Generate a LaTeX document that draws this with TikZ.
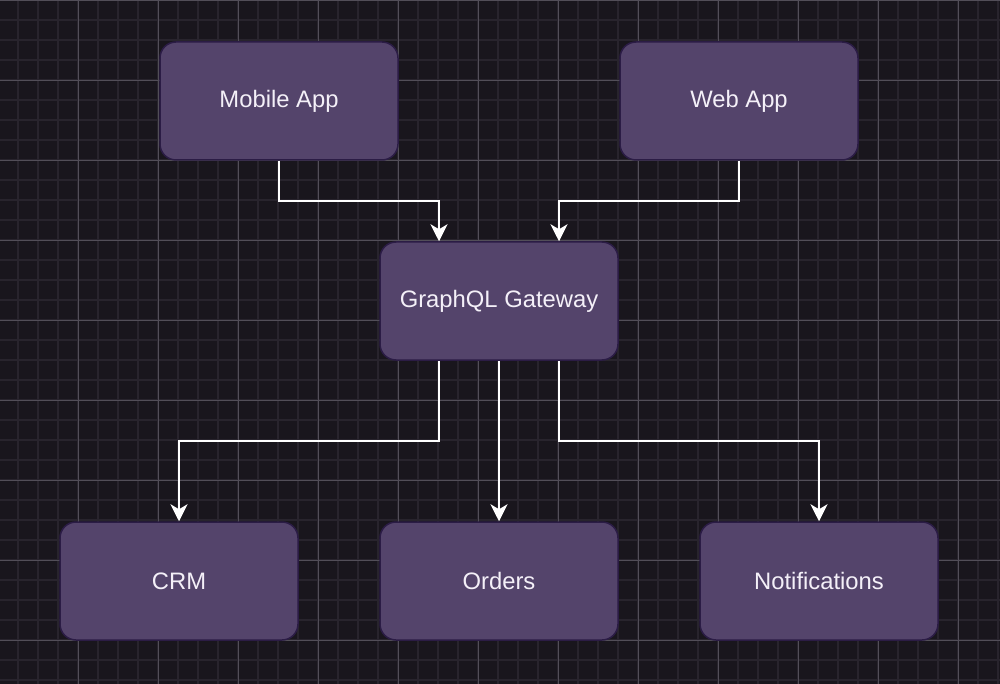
\documentclass[tikz,border=0pt]{standalone}
\usepackage{fontspec}
\setmainfont{Liberation Sans}
\usetikzlibrary{arrows.meta}
\definecolor{bgcol}{HTML}{19161D}
\definecolor{gridminor}{HTML}{28242D}
\definecolor{gridmajor}{HTML}{524E58}
\definecolor{boxfill}{HTML}{54446B}
\definecolor{boxline}{HTML}{2B1C45}
\definecolor{boxtext}{HTML}{F4F0F8}

\begin{document}
\begin{tikzpicture}[x=1pt,y=-1pt]
                        \tikzstyle{service}=[draw=boxline, line width=1.5pt, fill=boxfill, rounded corners=16pt,
                            minimum width=238pt, minimum height=118pt, text=boxtext,
                            font=\fontsize{23.8}{28}\selectfont]
                        \tikzstyle{link}=[draw=white, line width=2pt,
                            -{Stealth[length=17pt,width=17pt,inset=5pt]}]
                        % background and grid
                        \fill[bgcol] (0,0) rectangle (1000,684);
                        \useasboundingbox (0,0) rectangle (1000,684);
                        \foreach \x in {-2,18,...,998}
                            \draw[gridminor, line width=1.2pt] (\x,0) -- (\x,684);
                        \foreach \y in {0,20,...,680}
                            \draw[gridminor, line width=1.2pt] (0,\y) -- (1000,\y);
                        \foreach \x in {78,158,...,998}
                            \draw[gridmajor, line width=0.8pt] (\x,0) -- (\x,684);
                        \foreach \y in {0,80,...,640}
                            \draw[gridmajor, line width=0.8pt] (0,\y) -- (1000,\y);
                        % clients
                        \node[service] (mobile) at (279,101) {Mobile App};
                        \node[service] (web) at (739,101) {Web App};
                        % gateway
                        \node[service] (gateway) at (499,301) {GraphQL Gateway};
                        % services
                        \node[service] (crm) at (179,581) {CRM};
                        \node[service] (orders) at (499,581) {Orders};
                        \node[service] (notify) at (819,581) {Notifications};
                        % connectors
                        \draw[link] (mobile.south) |- (439,201) -- ([xshift=-60pt]gateway.north);
                        \draw[link] (web.south) |- (559,201) -- ([xshift=60pt]gateway.north);
                        \draw[link] ([xshift=-60pt]gateway.south) |- (179,441) -- (crm.north);
                        \draw[link] (gateway.south) -- (orders.north);
                        \draw[link] ([xshift=60pt]gateway.south) |- (819,441) -- (notify.north);
                    \end{tikzpicture}
\end{document}
